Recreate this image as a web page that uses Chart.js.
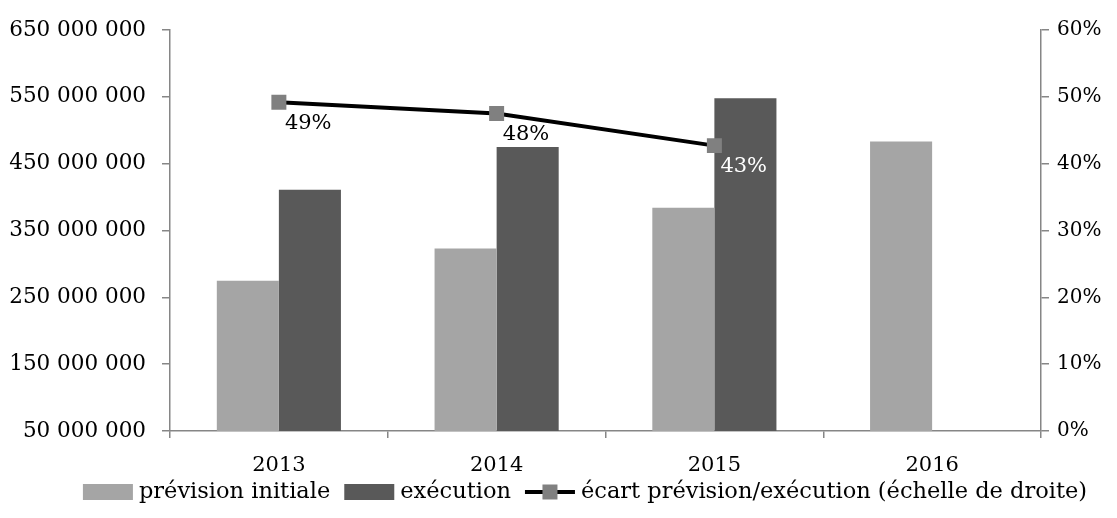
<!DOCTYPE html>
<html lang="fr">
<head>
  <meta charset="UTF-8">
  <title>Prévision initiale et exécution</title>
  <script src="https://cdn.jsdelivr.net/npm/chart.js"></script>
  <style>
    body {
      margin: 0;
      padding: 0;
      background: #fff;
    }
    #chartBox {
      width: 1117px;
      height: 518px;
    }
  </style>
</head>
<body>
  <div id="chartBox">
    <canvas id="budgetChart" width="1117" height="518"></canvas>
  </div>

  <script>
    const years = ['2013', '2014', '2015', '2016'];
    const previsionInitiale = [275000000, 323000000, 384000000, 483000000];
    const execution = [411000000, 475000000, 548000000, null];
    const ecart = [0.492, 0.475, 0.427, null];
    const ecartLabels = ['49%', '48%', '43%', ''];

    const leftTicks = { min: 50000000, max: 650000000, step: 100000000 };
    const rightTicks = { min: 0, max: 0.6, step: 0.1 };

    const FONT = '"DejaVu Serif", "Liberation Serif", serif';
    const AXIS_GREY = '#868686';

    function spaced(v) {
      return String(v).replace(/\B(?=(\d{3})+(?!\d))/g, ' ');
    }

    // étiquettes de la courbe (49%, 48%, 43%)
    const pointLabels = {
      id: 'pointLabels',
      afterDatasetsDraw(chart) {
        const ctx = chart.ctx;
        const lineMeta = chart.getDatasetMeta(2);
        const execMeta = chart.getDatasetMeta(1);
        ctx.save();
        ctx.font = '21px ' + FONT;
        ctx.textAlign = 'left';
        ctx.textBaseline = 'middle';
        lineMeta.data.forEach((pt, i) => {
          if (!ecartLabels[i]) return;
          const x = pt.x + 6;
          const y = pt.y + 21;
          const bar = execMeta.data[i];
          let color = '#000';
          if (bar && execution[i] != null && y > bar.y && x + 20 > bar.x - bar.width / 2) color = '#fff';
          ctx.fillStyle = color;
          ctx.fillText(ecartLabels[i], x, y);
        });
        ctx.restore();
      }
    };

    // légende dessinée à la main en bas
    const bottomLegend = {
      id: 'bottomLegend',
      afterDraw(chart) {
        const ctx = chart.ctx;
        const y = 492;
        const items = [
          { type: 'box', color: '#a5a5a5', text: 'prévision initiale' },
          { type: 'box', color: '#595959', text: 'exécution' },
          { type: 'line', color: '#000', marker: '#808080', text: 'écart prévision/exécution (échelle de droite)' }
        ];
        ctx.save();
        ctx.font = '22.5px ' + FONT;
        ctx.textBaseline = 'middle';
        const symW = 50, gap = 6, sep = 14;
        let total = 0;
        items.forEach((it, i) => {
          total += symW + gap + ctx.measureText(it.text).width;
          if (i < items.length - 1) total += sep;
        });
        let x = 585 - total / 2;
        items.forEach(it => {
          if (it.type === 'box') {
            ctx.fillStyle = it.color;
            ctx.fillRect(x, y - 8, symW, 16);
          } else {
            ctx.strokeStyle = it.color;
            ctx.lineWidth = 4;
            ctx.beginPath();
            ctx.moveTo(x, y);
            ctx.lineTo(x + symW, y);
            ctx.stroke();
            ctx.fillStyle = it.marker;
            ctx.fillRect(x + symW / 2 - 7.5, y - 7.5, 15, 15);
          }
          x += symW + gap;
          ctx.fillStyle = '#000';
          ctx.fillText(it.text, x, y);
          x += ctx.measureText(it.text).width + sep;
        });
        ctx.restore();
      }
    };

    const ctx = document.getElementById('budgetChart').getContext('2d');
    const budgetChart = new Chart(ctx, {
      data: {
        labels: years,
        datasets: [
          {
            type: 'bar',
            label: 'prévision initiale',
            data: previsionInitiale,
            backgroundColor: '#a5a5a5',
            yAxisID: 'y',
            order: 2,
            categoryPercentage: 0.57,
            barPercentage: 1.0
          },
          {
            type: 'bar',
            label: 'exécution',
            data: execution,
            backgroundColor: '#595959',
            yAxisID: 'y',
            order: 2,
            categoryPercentage: 0.57,
            barPercentage: 1.0
          },
          {
            type: 'line',
            label: 'écart prévision/exécution (échelle de droite)',
            data: ecart,
            borderColor: '#000',
            borderWidth: 4,
            pointStyle: 'rect',
            pointRadius: 10.6,
            pointBackgroundColor: '#808080',
            pointBorderColor: '#808080',
            pointBorderWidth: 0,
            tension: 0,
            yAxisID: 'y2',
            order: 0
          }
        ]
      },
      options: {
        responsive: false,
        animation: false,
        events: [],
        layout: {
          padding: { top: 30, bottom: 37, left: 0, right: 0 }
        },
        plugins: {
          legend: { display: false },
          tooltip: { enabled: false }
        },
        scales: {
          x: {
            offset: true,
            grid: {
              offset: true,
              drawOnChartArea: false,
              drawTicks: true,
              tickLength: 7,
              color: AXIS_GREY,
              lineWidth: 1.5
            },
            border: { color: AXIS_GREY, width: 1.5 },
            ticks: {
              color: '#000',
              font: { family: FONT, size: 21 },
              padding: 15
            },
            afterFit(scale) { scale.height = 50; }
          },
          y: {
            position: 'left',
            min: leftTicks.min,
            max: leftTicks.max,
            ticks: {
              stepSize: leftTicks.step,
              color: '#000',
              font: { family: FONT, size: 21.5 },
              padding: 16,
              callback: v => spaced(v)
            },
            grid: {
              drawOnChartArea: false,
              tickLength: 8,
              color: AXIS_GREY,
              lineWidth: 1.5
            },
            border: { color: AXIS_GREY, width: 1.5 },
            afterFit(scale) { scale.width = 170; }
          },
          y2: {
            position: 'right',
            min: rightTicks.min,
            max: rightTicks.max,
            ticks: {
              stepSize: rightTicks.step,
              color: '#000',
              font: { family: FONT, size: 20 },
              padding: 8,
              callback: v => Math.round(v * 100) + '%'
            },
            grid: {
              drawOnChartArea: false,
              tickLength: 8,
              color: AXIS_GREY,
              lineWidth: 1.5
            },
            border: { color: AXIS_GREY, width: 1.5 },
            afterFit(scale) { scale.width = 76; }
          }
        }
      },
      plugins: [pointLabels, bottomLegend]
    });
  </script>
</body>
</html>
